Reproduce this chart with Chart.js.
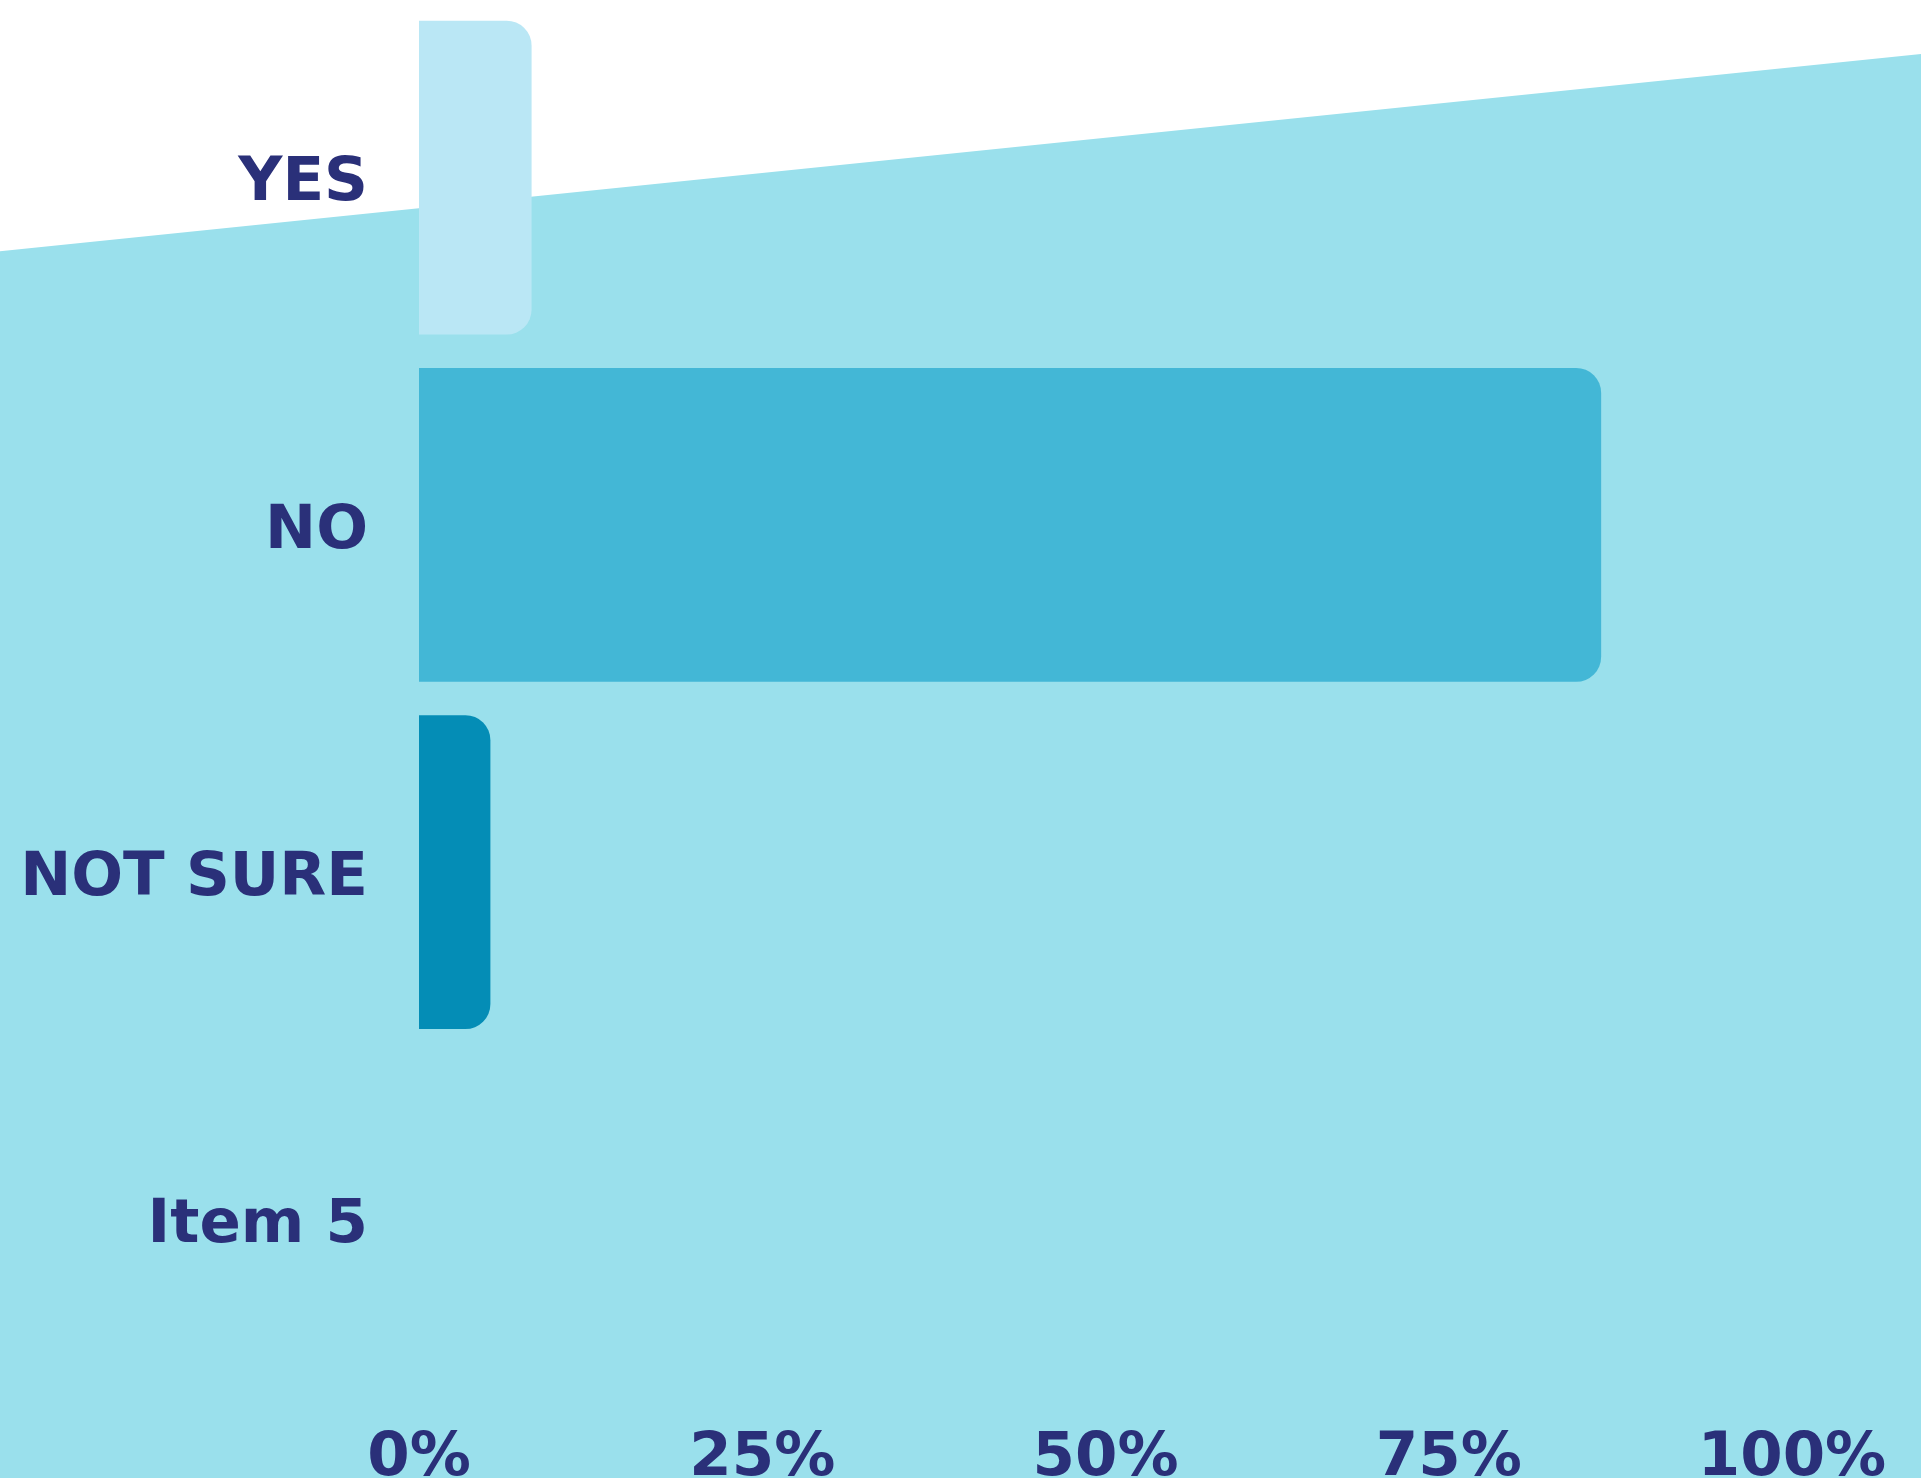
<!DOCTYPE html>
<html>
<head>
<meta charset="utf-8">
<title>Survey answers</title>
<script src="https://cdn.jsdelivr.net/npm/chart.js@4.4.1/dist/chart.umd.min.js"></script>
<style>
  html, body { margin: 0; padding: 0; background: #ffffff; overflow: hidden; }
  canvas { display: block; }
</style>
</head>
<body>
<canvas id="chart" width="1921" height="1478"></canvas>
<script>
// Answers and their share of responses (percent)
const categories = ["YES", "NO", "NOT SURE", "Item 5"];
const shares = [8.2, 86.1, 5.2, null];
const barColors = ["#bae7f5", "#43b7d6", "#048db6", "#048db6"];
const percentTicks = [0, 25, 50, 75, 100];

const textColor = "#2a3079";
const labelFont = { family: "DejaVu Sans", size: 61, weight: "bold" };

// White page with a slanted light blue panel behind the bars
const slantedBackground = {
  id: "slantedBackground",
  beforeDraw(chart) {
    const ctx = chart.ctx;
    const w = chart.width;
    const h = chart.height;
    ctx.save();
    ctx.fillStyle = "#ffffff";
    ctx.fillRect(0, 0, w, h);
    ctx.fillStyle = "#9ae0ec";
    ctx.beginPath();
    ctx.moveTo(0, h * 0.17);
    ctx.lineTo(w, h * 0.0365);
    ctx.lineTo(w, h);
    ctx.lineTo(0, h);
    ctx.closePath();
    ctx.fill();
    ctx.restore();
  }
};

const chart = new Chart(document.getElementById("chart"), {
  type: "bar",
  data: {
    labels: categories,
    datasets: [
      {
        data: shares,
        backgroundColor: barColors,
        borderWidth: 0,
        borderRadius: 25,
        borderSkipped: "start",
        barPercentage: 0.904,
        categoryPercentage: 1
      }
    ]
  },
  options: {
    indexAxis: "y",
    responsive: false,
    animation: false,
    devicePixelRatio: 1,
    layout: {
      padding: { top: 4, right: 0, bottom: 0, left: 0 }
    },
    plugins: {
      legend: { display: false },
      tooltip: { enabled: false }
    },
    scales: {
      x: {
        min: 0,
        max: 100,
        afterBuildTicks(scale) {
          scale.ticks = percentTicks.map(v => ({ value: v }));
        },
        afterFit(scale) {
          scale.height = 85;
          scale.paddingLeft = 0;
          scale.paddingRight = 129;
        },
        grid: { display: false, drawTicks: false },
        border: { display: false },
        ticks: {
          color: textColor,
          font: labelFont,
          padding: 30,
          maxRotation: 0,
          callback: v => v + "%"
        }
      },
      y: {
        afterFit(scale) {
          scale.width = 419;
          scale.paddingTop = 0;
          scale.paddingBottom = 0;
        },
        grid: { display: false, drawTicks: false },
        border: { display: false },
        ticks: {
          color: textColor,
          font: labelFont,
          padding: 51,
          labelOffset: 7
        }
      }
    }
  },
  plugins: [slantedBackground]
});
</script>
</body>
</html>
